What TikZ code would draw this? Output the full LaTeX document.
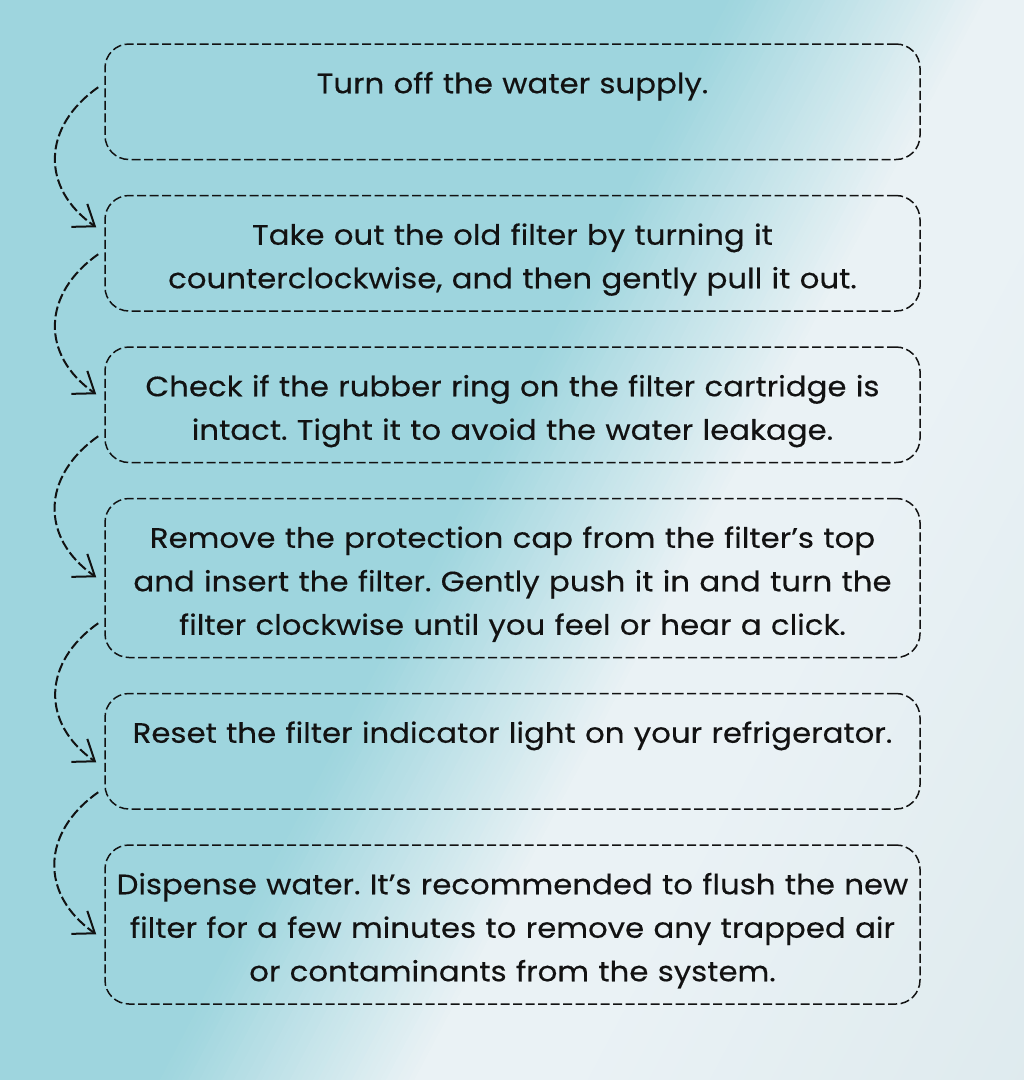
\documentclass[tikz,border=0pt]{standalone}
\usepackage{fontspec}
\setmainfont{Poppins}[FakeStretch=1.1,FakeBold=0.3]
\usetikzlibrary{positioning,arrows.meta}
\definecolor{bgteal}{RGB}{158,213,222}
\definecolor{bgwhite}{RGB}{234,242,245}
\definecolor{bglight}{RGB}{222,234,238}
\definecolor{inkblack}{RGB}{18,18,18}
\frenchspacing

\begin{document}
\begin{tikzpicture}[x=1pt,y=1pt,
  stepbox/.style={draw=inkblack,line width=1.5pt,dash pattern=on 9pt off 3.5pt,
    rounded corners=24pt,text width=811pt,inner xsep=2pt,inner ysep=14.25pt,
    align=center,text=inkblack,font=\fontsize{28pt}{43.5pt}\selectfont,
    text height=35pt,text depth=52pt},
  tallbox/.style={text depth=95.5pt},
  flow/.style={draw=inkblack,line width=2pt,dash pattern=on 10pt off 3.5pt,
    -{Straight Barb[length=19pt,width=28pt,line width=2pt]},
    out=215,in=145,looseness=1.25},
  node distance=34.5pt]

\useasboundingbox (0,0) rectangle (1024,-1080);

 % background
 \begin{scope}
  \clip (0,0) rectangle (1024,-1080);
  \begin{scope}[rotate=-27.8]
   \fill[bgteal] (-200,-1600) rectangle (641,1600);
   \foreach \u in {640,645,...,865}{
     \pgfmathtruncatemacro\mix{(\u-640)/2.3}
     \fill[bgwhite!\mix!bgteal] (\u,-1600) rectangle (\u+6,1600);}
   \fill[bgwhite] (870,-1600) rectangle (1001,1600);
   \foreach \u in {1000,1006,...,1414}{
     \pgfmathtruncatemacro\mix{(\u-1000)/4.2}
     \fill[bglight!\mix!bgwhite] (\u,-1600) rectangle (\u+7,1600);}
  \end{scope}
 \end{scope}

 \node[stepbox] (s1) at (512.5,-101.75) {Turn off the water supply.};
 \node[stepbox,below=of s1] (s2) {Take out the old filter by turning it\\
   counterclockwise, and then gently pull it out.};
 \node[stepbox,below=of s2] (s3) {Check if the rubber ring on the filter cartridge is\\
   intact. Tight it to avoid the water leakage.};
 \node[stepbox,tallbox,below=of s3] (s4) {Remove the protection cap from the filter’s top\\
   and insert the filter. Gently push it in and turn the\\
   filter clockwise until you feel or hear a click.};
 \node[stepbox,below=of s4] (s5) {Reset the filter indicator light on your refrigerator.};
 \node[stepbox,tallbox,below=of s5] (s6) {Dispense water. It’s recommended to flush the new\\
   filter for a few minutes to remove any trapped air\\
   or contaminants from the system.};

 % arrows on the left side
 \draw[flow] ([xshift=-6pt,yshift=-44pt]s1.north west) to ([xshift=-8pt,yshift=-32.5pt]s2.north west);
 \draw[flow] ([xshift=-6pt,yshift=-59.5pt]s2.north west) to ([xshift=-8pt,yshift=-48pt]s3.north west);
 \draw[flow] ([xshift=-6pt,yshift=-90pt]s3.north west) to ([xshift=-8pt,yshift=-79.5pt]s4.north west);
 \draw[flow] ([xshift=-6pt,yshift=-125.5pt]s4.north west) to ([xshift=-8pt,yshift=-69.5pt]s5.north west);
 \draw[flow] ([xshift=-6pt,yshift=-99.5pt]s5.north west) to ([xshift=-8pt,yshift=-90pt]s6.north west);

\end{tikzpicture}
\end{document}
